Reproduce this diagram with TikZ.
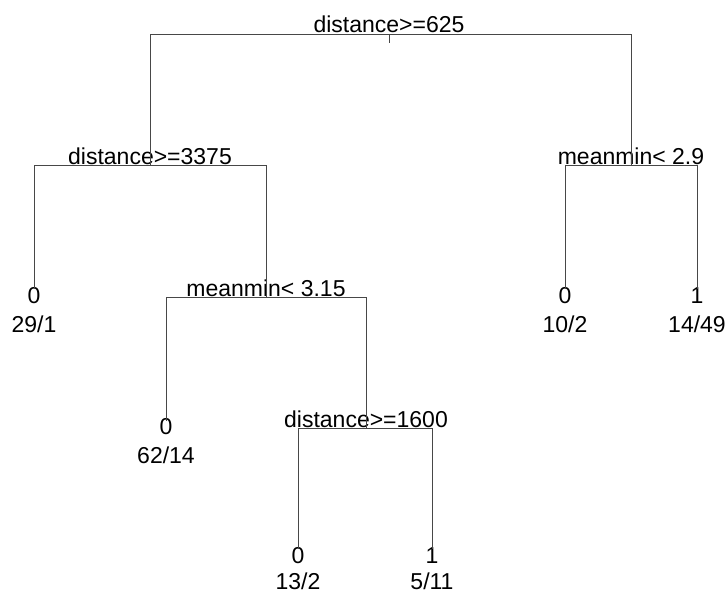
\documentclass[tikz,border=0pt]{standalone}
\usepackage{fontspec}
\setmainfont{Liberation Sans}
\begin{document}
\begin{tikzpicture}[x=1pt,y=-1pt,
  edge/.style={draw=black!72, line width=0.9pt},
  lab/.style={anchor=base, inner sep=0pt, font=\fontsize{23}{27}\selectfont}]
\useasboundingbox (0,0) rectangle (725,594);
% split points
\coordinate (n1) at (389,34);
\coordinate (n2) at (150,165);
\coordinate (n3) at (631,165);
\coordinate (n5) at (266,297);
\coordinate (n11) at (366,428);
% leaf line ends
\coordinate (l4) at (34,289);
\coordinate (l6) at (565,289);
\coordinate (l7) at (697,289);
\coordinate (l10) at (166,421);
\coordinate (l22) at (298,549);
\coordinate (l23) at (432,549);
\coordinate (stub) at (389,43);
% split labels
\node[lab] (t1) at (389,33) {distance>=625};
\node[lab] (t2) at (150,164) {distance>=3375};
\node[lab] (t3) at (631,164) {meanmin< 2.9};
\node[lab] (t5) at (266,296) {meanmin< 3.15};
\node[lab] (t11) at (366,427) {distance>=1600};
% leaf labels
\node[lab] (c4) at (34,303) {0};   \node[lab] (k4) at (34,332) {29/1};
\node[lab] (c6) at (565,303) {0};  \node[lab] (k6) at (565,332) {10/2};
\node[lab] (c7) at (697,303) {1};  \node[lab] (k7) at (697,332) {14/49};
\node[lab] (c10) at (166,434) {0}; \node[lab] (k10) at (166,463) {62/14};
\node[lab] (c22) at (298,563) {0}; \node[lab] (k22) at (298,589) {13/2};
\node[lab] (c23) at (432,563) {1}; \node[lab] (k23) at (432,589) {5/11};
% connectors
\draw[edge] (n1) -- (stub);
\draw[edge] (n2) -- (n2 |- n1) -- (n3 |- n1) -- (n3);
\draw[edge] (l4) -- (l4 |- n2) -- (n5 |- n2) -- (n5);
\draw[edge] (l6) -- (l6 |- n3) -- (l7 |- n3) -- (l7);
\draw[edge] (l10) -- (l10 |- n5) -- (n11 |- n5) -- (n11);
\draw[edge] (l22) -- (l22 |- n11) -- (l23 |- n11) -- (l23);
\end{tikzpicture}
\end{document}
